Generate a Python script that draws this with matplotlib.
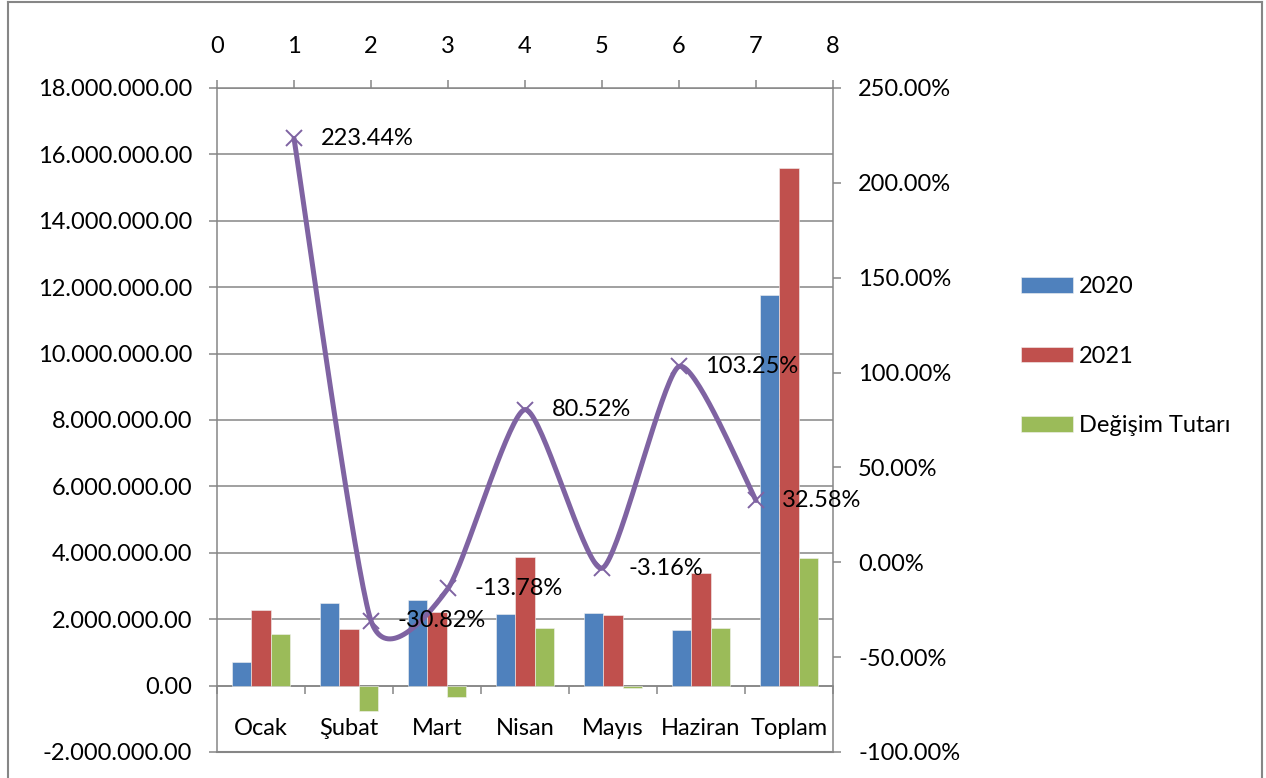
import numpy as np
import matplotlib
matplotlib.use("Agg")
import matplotlib.pyplot as plt
from matplotlib.ticker import FuncFormatter, FixedLocator
from matplotlib.lines import Line2D

# ---- data ----
categories = ["Ocak", "Şubat", "Mart", "Nisan", "Mayıs", "Haziran", "Toplam"]
values_2020 = [700000, 2480000, 2570000, 2150000, 2200000, 1670000, 11770000]
values_2021 = [2264000, 1716000, 2216000, 3881000, 2130000, 3394000, 15605000]
values_diff = [1564000, -764000, -354000, 1731000, -70000, 1724000, 3835000]
change_x = [1, 2, 3, 4, 5, 6, 7]
change_pct = [223.44, -30.82, -13.78, 80.52, -3.16, 103.25, 32.58]
series_names = ["2020", "2021", "Değişim Tutarı"]
left_ticks = [-2000000, 0, 2000000, 4000000, 6000000, 8000000, 10000000,
              12000000, 14000000, 16000000, 18000000]
right_ticks = [-100, -50, 0, 50, 100, 150, 200, 250]
top_ticks = [0, 1, 2, 3, 4, 5, 6, 7, 8]

# ---- style ----
W, H = 1266, 778
DPI = 100
FONT = "Lato"
FS = 17
GRAY = "#868686"
C2020, C2021, CDIFF = "#4F81BD", "#C0504D", "#9BBB59"
PURPLE = "#7F63A2"
SMOOTH = 0.105
plt.rcParams["font.family"] = [FONT, "DejaVu Sans"]

fig = plt.figure(figsize=(W / DPI, H / DPI), dpi=DPI)
L, R, T, B = 217, 833, 88, 752
pos = [L / W, (H - B) / H, (R - L) / W, (B - T) / H]
ax = fig.add_axes(pos)

n = len(categories)
x = np.arange(n)
bw = 1 / 4.5
for i, (vals, col) in enumerate(zip([values_2020, values_2021, values_diff],
                                    [C2020, C2021, CDIFF])):
    ax.bar(x + (i - 1) * bw, vals, width=bw, color=col, edgecolor="#f2f2f2",
           linewidth=0.4, zorder=3, label=series_names[i])

ax.set_xlim(-0.5, n - 0.5)
ax.set_ylim(left_ticks[0], left_ticks[-1])
ax.yaxis.set_major_locator(FixedLocator(left_ticks))
ax.yaxis.set_major_formatter(FuncFormatter(
    lambda v, p: f"{v:,.2f}".replace(",", ".")))
ax.yaxis.grid(True, color=GRAY, linewidth=1.1, zorder=0)
ax.set_axisbelow(True)
ax.tick_params(axis="y", direction="out", length=6, width=1.1, color=GRAY,
               labelsize=FS, pad=12)

ax.spines["top"].set_visible(False)
ax.spines["right"].set_visible(False)
ax.spines["left"].set_color(GRAY)
ax.spines["left"].set_linewidth(1.1)
ax.spines["bottom"].set_position(("data", 0))
ax.spines["bottom"].set_color(GRAY)
ax.spines["bottom"].set_linewidth(1.1)
ax.set_xticks(x)
ax.set_xticklabels(categories)
ax.set_xticks(np.arange(n + 1) - 0.5, minor=True)
ax.tick_params(axis="x", which="major", length=0, labelsize=FS, pad=23)
ax.tick_params(axis="x", which="minor", direction="out", length=6,
               width=1.1, color=GRAY)
ax.axhline(left_ticks[0], color=GRAY, linewidth=1.5, clip_on=False, zorder=5)

# ---- secondary axes for the change line ----
ax2 = fig.add_axes(pos, facecolor="none")
ax2.set_xlim(top_ticks[0], top_ticks[-1])
ax2.set_ylim(right_ticks[0], right_ticks[-1])
ax2.xaxis.set_ticks_position("top")
ax2.xaxis.set_label_position("top")
ax2.yaxis.set_ticks_position("right")
ax2.yaxis.set_label_position("right")
ax2.set_xticks(top_ticks)
ax2.set_xticklabels([str(t) for t in top_ticks])
ax2.set_yticks(right_ticks)
ax2.yaxis.set_major_formatter(FuncFormatter(lambda v, p: f"{v:.2f}%"))
ax2.tick_params(axis="x", direction="out", length=6, width=1.1, color=GRAY,
                labelsize=FS, pad=16)
ax2.tick_params(axis="y", direction="out", length=6, width=1.1, color=GRAY,
                labelsize=FS, pad=12)
for s in ["left", "bottom"]:
    ax2.spines[s].set_visible(False)
for s in ["top", "right"]:
    ax2.spines[s].set_color(GRAY)
    ax2.spines[s].set_linewidth(1.1)

# smoothed line through the points (Bezier, Excel-like smoothing)
px = np.array(change_x, dtype=float)
py = np.array(change_pct, dtype=float)
P = np.column_stack([px, py])
Pext = np.vstack([P[0], P, P[-1]])
curve = []
for k in range(1, len(Pext) - 2):
    p0, p1, p2, p3 = Pext[k - 1], Pext[k], Pext[k + 1], Pext[k + 2]
    c1 = p1 + (p2 - p0) * SMOOTH
    c2 = p2 - (p3 - p1) * SMOOTH
    t = np.linspace(0, 1, 40)[:, None]
    seg = ((1 - t) ** 3) * p1 + 3 * ((1 - t) ** 2) * t * c1 \
        + 3 * (1 - t) * t ** 2 * c2 + t ** 3 * p2
    curve.append(seg)
curve = np.vstack(curve)
ax2.plot(curve[:, 0], curve[:, 1], color=PURPLE, linewidth=3.6,
         solid_capstyle="round", solid_joinstyle="round", zorder=4)
ax2.plot(px, py, linestyle="none", marker="x", markersize=12,
         markeredgewidth=1.4, color=PURPLE, zorder=5)
for xv, yv in zip(change_x, change_pct):
    ax2.annotate(f"{yv:.2f}%", (xv, yv), xytext=(19, 0),
                 textcoords="offset points", va="center", ha="left",
                 fontsize=FS, zorder=6)

# ---- legend ----
handles, labels = ax.get_legend_handles_labels()
leg = fig.legend(handles, labels, loc="upper left",
                 bbox_to_anchor=(1000 / W, 1 - 255 / H), frameon=False,
                 fontsize=FS, handlelength=2.2, handleheight=0.64,
                 handletextpad=0.25, labelspacing=2.05)

# ---- outer border ----
for xs, ys in [([8 / W, 8 / W], [0, 1 - 2 / H]),
               ([8 / W, 1262 / W], [1 - 2 / H, 1 - 2 / H]),
               ([1262 / W, 1262 / W], [0, 1 - 2 / H])]:
    fig.add_artist(Line2D(xs, ys, color=GRAY, linewidth=1.5))

fig.savefig("out.png", dpi=DPI, facecolor="white")
